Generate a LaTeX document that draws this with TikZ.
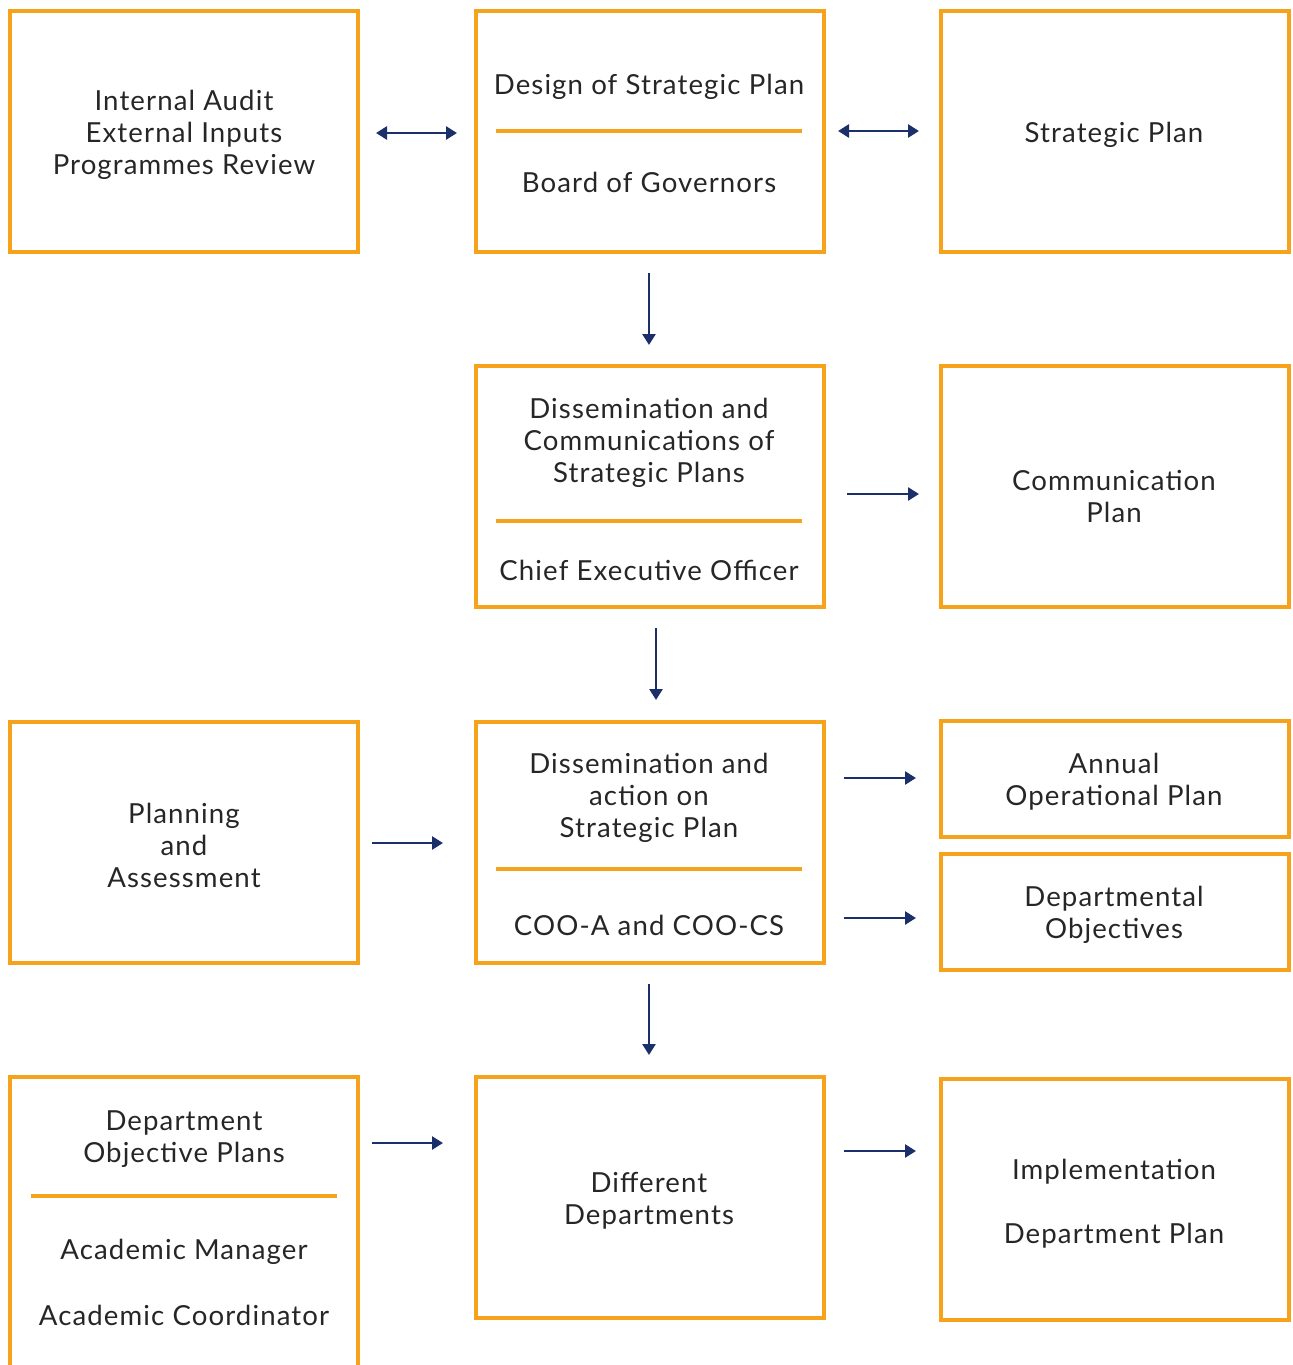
\documentclass[tikz,border=0pt]{standalone}
\usepackage{fontspec}
\setmainfont{Lato}[LetterSpace=4]
\usetikzlibrary{arrows.meta}
\definecolor{orng}{HTML}{F7A21B}
\definecolor{navy}{HTML}{1B2F6B}
\definecolor{txt}{HTML}{262626}
\begin{document}
\begin{tikzpicture}[x=0.5pt,y=-0.5pt,
  box/.style={draw=orng,line width=2pt,rectangle,inner sep=0pt,minimum width=174pt,minimum height=120.5pt},
  sbox/.style={box,minimum height=58pt},
  tall/.style={box,minimum height=160pt},
  lbl/.style={align=center,text=txt,font=\fontsize{13.8}{16}\selectfont,inner sep=0pt,yshift=-1.2pt},
  divl/.style={draw=orng,line width=2pt},
  tip/.tip={Triangle[length=5.5pt,width=6.5pt]},
  arr/.style={draw=navy,line width=1.3pt,-tip},
  darr/.style={draw=navy,line width=1.3pt,tip-tip}]
\useasboundingbox (0,0) rectangle (1292,1365);
\clip (0,0) rectangle (1292,1365);
% row 1
\node[box] (a1) at (184,131.5) {};
\node[box] (b1) at (649.5,131.5) {};
\node[box] (c1) at (1114.5,131.5) {};
\node[lbl] (ta1) at (184,132) {Internal Audit\\External Inputs\\Programmes Review};
\node[lbl] (tb1) at (649,84) {Design of Strategic Plan};
\draw[divl] (496,131) -- (802,131);
\node[lbl] (tb1b) at (649,180) {Board of Governors};
\node[lbl] (tc1) at (1114,132) {Strategic Plan};
\coordinate (p1a) at (376,133); \coordinate (p1b) at (457,133);
\draw[darr] (p1a) -- (p1b);
\coordinate (p2a) at (838,131); \coordinate (p2b) at (919,131);
\draw[darr] (p2a) -- (p2b);
% down 1
\node[box] (b2) at (649.5,486.5) {};
\coordinate (d1a) at (649,273); \coordinate (d1b) at (649,345);
\draw[arr] (d1a) -- (d1b);
% row 2
\node[lbl] (tb2) at (649,440) {Dissemination and\\Communications of\\Strategic Plans};
\draw[divl] (496,521) -- (802,521);
\node[lbl] (tb2b) at (649,568) {Chief Executive Officer};
\node[box] (c2) at (1114.5,486.5) {};
\node[lbl] (tc2) at (1114,494) {Communication\\Plan};
\coordinate (e1a) at (847,494); \coordinate (e1b) at (919,494);
\draw[arr] (e1a) -- (e1b);
% down 2
\node[box] (b3) at (649.5,842) {};
\coordinate (d2a) at (656,628); \coordinate (d2b) at (656,700);
\draw[arr] (d2a) -- (d2b);
% row 3
\node[box] (a3) at (184,842) {};
\node[lbl] (ta3) at (184,843) {Planning\\and\\Assessment};
\coordinate (f1a) at (372,843); \coordinate (f1b) at (443,843);
\draw[arr] (f1a) -- (f1b);
\node[lbl] (tb3) at (649,795) {Dissemination and\\action on\\Strategic Plan};
\draw[divl] (496,869) -- (802,869);
\node[lbl] (tb3b) at (649,923) {COO-A and COO-CS};
\node[sbox] (c3) at (1114.5,779) {};
\node[lbl] (tc3) at (1114,779) {Annual\\Operational Plan};
\node[sbox] (c4) at (1114.5,912) {};
\node[lbl] (tc4) at (1114,912) {Departmental\\Objectives};
\coordinate (g1a) at (844,778); \coordinate (g1b) at (916,778);
\draw[arr] (g1a) -- (g1b);
\coordinate (g2a) at (844,918); \coordinate (g2b) at (916,918);
\draw[arr] (g2a) -- (g2b);
% down 3
\node[box] (b4) at (649.5,1197.5) {};
\coordinate (d3a) at (649,984); \coordinate (d3b) at (649,1055);
\draw[arr] (d3a) -- (d3b);
% row 4
\node[tall] (a4) at (184,1237) {};
\node[lbl] (ta4) at (184,1137) {Department\\Objective Plans};
\draw[divl] (31,1196) -- (337,1196);
\node[lbl] (ta4b) at (184,1249) {Academic Manager};
\node[lbl] (ta4c) at (184,1313) {Academic Coordinator};
\coordinate (h1a) at (372,1143); \coordinate (h1b) at (443,1143);
\draw[arr] (h1a) -- (h1b);
\node[lbl] (tb4) at (649,1198) {Different\\Departments};
\node[box] (c5) at (1114.5,1199.5) {};
\node[lbl] (tc5) at (1114,1169) {Implementation};
\node[lbl] (tc5b) at (1114,1233) {Department Plan};
\coordinate (h2a) at (844,1151); \coordinate (h2b) at (916,1151);
\draw[arr] (h2a) -- (h2b);
\end{tikzpicture}
\end{document}
